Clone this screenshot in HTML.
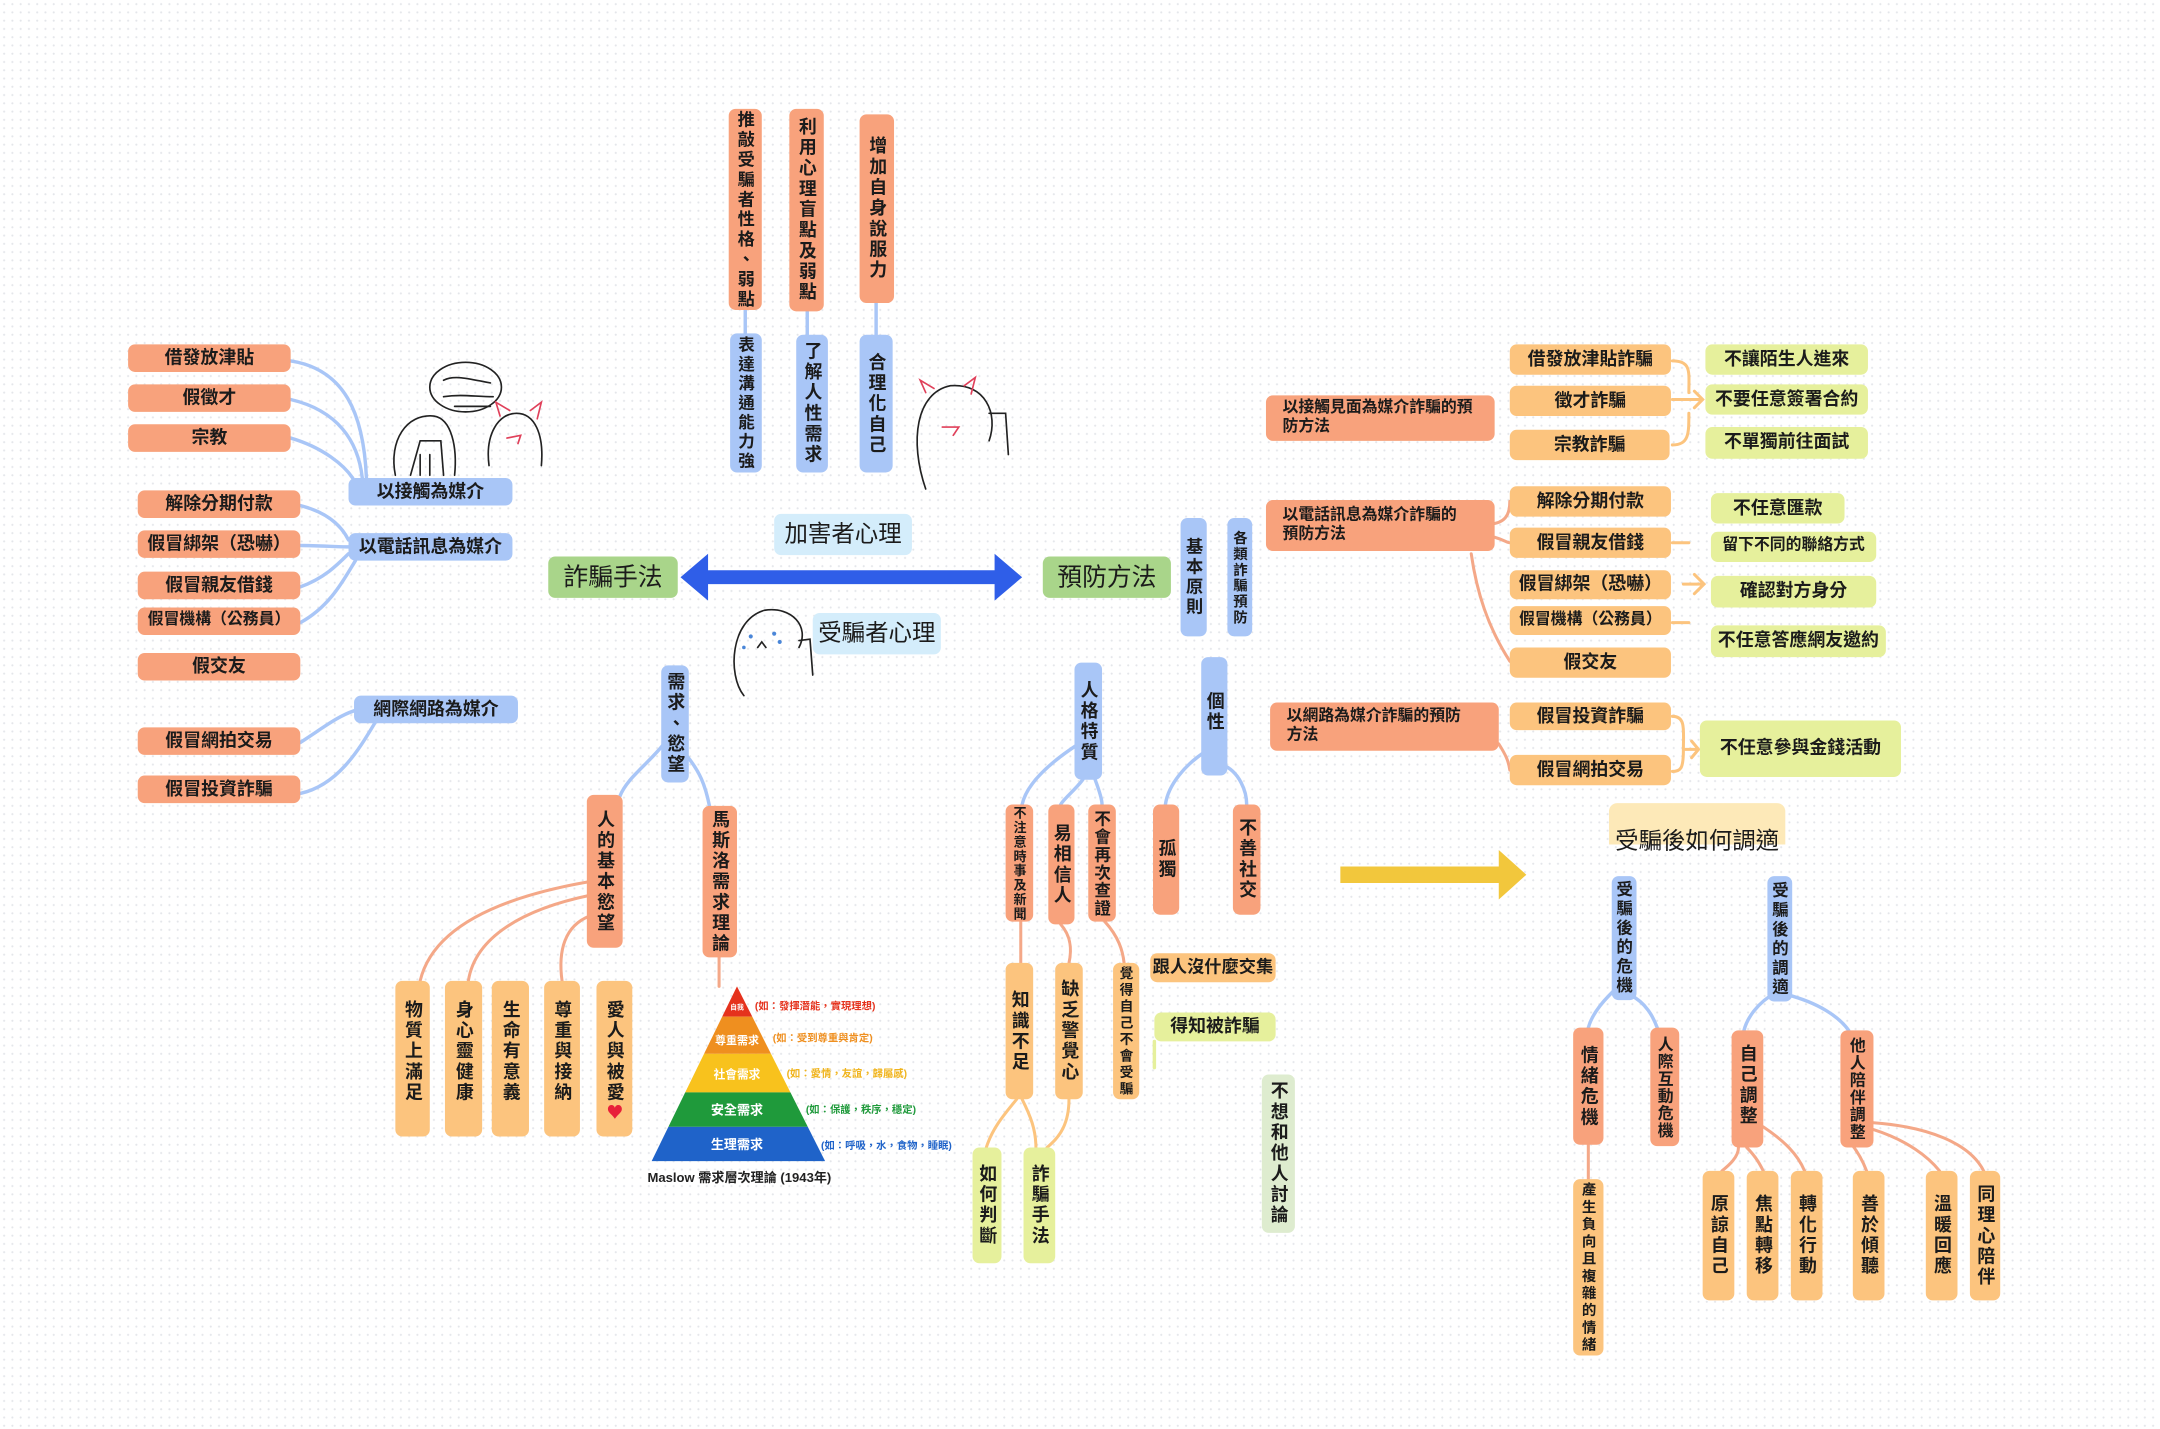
<!DOCTYPE html>
<html><head><meta charset="utf-8">
<style>
html,body{margin:0;padding:0;background:#fff;}
body{width:2160px;height:1428px;overflow:hidden;position:relative;}
#w{position:absolute;left:0;top:0;width:1568px;height:1037px;transform:scale(1.37755);transform-origin:0 0;
 background-color:#fff;background-image:radial-gradient(#e4e6ea 0.6px,transparent 0.9px);background-size:6px 6px;
 font-family:"Liberation Sans","Noto Sans CJK TC","Noto Sans CJK SC",sans-serif;}
.n{position:absolute;border-radius:5px;font-weight:bold;display:flex;align-items:center;justify-content:center;font-size:13px;color:#1b1b1b;box-sizing:border-box;line-height:1.15;}
.v{writing-mode:vertical-rl;text-orientation:upright;letter-spacing:2px;font-family:"Noto Sans CJK TC","Noto Sans CJK SC",sans-serif;}
.o{background:#f8a27c;}
.lo{background:#fcc47e;}
.b{background:#a9c6f7;}
.g{background:#a9d58a;}
.y{background:#e6f09c;}
.pg{background:#deeccf;}
.lb{background:#d4edfb;}
svg{position:absolute;left:0;top:0;}
</style></head><body><div id="w">
<svg width="1568" height="1037" viewBox="0 0 1568 1037" fill="none" stroke-linecap="round">
<g stroke="#a9c6f7" stroke-width="2.5">
<path d="M211,262 C250,268 264,300 266,347"/>
<path d="M211,290 C245,298 260,320 263,347"/>
<path d="M211,318 C235,325 250,338 256,347"/>
<path d="M218,367 C238,372 248,382 253,392"/>
<path d="M218,396 C232,396 244,397 253,397"/>
<path d="M218,426 C235,420 245,410 253,402"/>
<path d="M218,452 C240,440 250,420 258,407"/>
<path d="M218,539 C235,528 245,520 257,516"/>
<path d="M218,576 C245,570 260,545 272,525"/>
<path d="M541,225 V242"/><path d="M586,226 V243"/><path d="M636,220 V243"/>
<path d="M482,540 C470,555 455,565 450,578"/>
<path d="M498,548 C508,560 512,570 515,585"/>
<path d="M783,540 C760,555 745,570 742,584"/>
<path d="M786,566 C780,574 772,580 770,584"/>
<path d="M795,566 C798,574 800,580 800,584"/>
<path d="M876,545 C860,555 848,570 846,584"/>
<path d="M887,555 C900,560 905,575 905,584"/>
<path d="M1176,715 C1165,725 1156,735 1153,746"/>
<path d="M1183,722 C1195,728 1200,738 1203,746"/>
<path d="M1290,720 C1275,728 1268,740 1266,748"/>
<path d="M1297,722 C1320,728 1335,738 1342,748"/>
</g>
<g stroke="#f4a888" stroke-width="2.2">
<path d="M428,640 C370,650 315,670 305,712"/>
<path d="M428,650 C380,660 345,680 340,712"/>
<path d="M428,665 C410,672 405,690 408,712"/>
<path d="M522,695 V716"/>
<path d="M741,669 V699"/>
<path d="M770,671 C778,680 778,690 776,699"/>
<path d="M802,669 C812,680 815,690 816,699"/>
<path d="M1085,380 C1095,378 1096,370 1096,364"/>
<path d="M1085,390 C1092,392 1094,394 1096,394"/>
<path d="M1068,402 C1072,430 1080,455 1096,480"/>
<path d="M1088,540 C1093,548 1095,552 1096,559"/>
<path d="M1153,831 V856"/>
<path d="M1262,833 C1262,840 1255,846 1250,850"/>
<path d="M1268,833 C1275,840 1278,846 1280,850"/>
<path d="M1280,818 C1295,828 1305,838 1310,850"/>
<path d="M1342,828 C1348,835 1352,842 1355,850"/>
<path d="M1360,820 C1385,828 1400,840 1408,850"/>
<path d="M1360,815 C1400,818 1430,830 1440,850"/>
</g>
<g stroke="#fcc47e" stroke-width="2.2">
<path d="M738,798 C728,810 720,820 716,833"/>
<path d="M742,798 C748,810 752,820 752,833"/>
<path d="M776,798 C776,815 770,825 760,833"/>
<path d="M1214,262 C1228,262 1226,270 1226,285 M1214,290 H1226 M1214,323 C1226,323 1226,315 1226,300 M1226,290 L1236,290 M1230,284 L1236,290 L1230,296"/>
<path d="M1214,394 H1226"/>
<path d="M1214,452 H1226"/>
<path d="M1222,424 H1236 M1230,417 L1237,424 L1230,431"/>
<path d="M1214,520 C1224,520 1222,530 1222,545 C1222,558 1220,560 1214,560 M1222,544 H1232 M1228,538 L1233,544 L1228,550"/>
</g>
<g stroke="#e6f09c" stroke-width="2.5"><path d="M838,756 V775"/></g>
<!-- blue double arrow -->
<path d="M494,419 L514,402 L514,414 L722,414 L722,402 L742,419 L722,436 L722,424 L514,424 L514,436 Z" fill="#2f5ee8" stroke="none"/>
<!-- yellow arrow -->
<path d="M973,629 H1088 V617 L1108,635 L1088,653 V641 H973 Z" fill="#f2c73c" stroke="none"/>
<!-- doodles -->
<g stroke="#222" stroke-width="1.2">
<ellipse cx="338" cy="281" rx="26" ry="18"/>
<path d="M322,276 C330,272 340,275 356,278 M322,288 C335,286 345,288 358,288 M330,295 L356,295"/>
<path d="M287,345 C282,320 295,300 315,302 C328,304 332,325 330,345"/>
<path d="M298,345 L305,320 L320,320 L322,345 M305,330 V345 M312,330 V345"/>
<path d="M355,338 C352,315 362,300 375,300 C388,300 395,315 393,338"/>
<path d="M672,355 C660,320 665,285 690,280 C715,278 725,300 718,320 M718,300 L730,300 L732,330"/>
<path d="M540,505 C528,490 530,450 555,443 C575,440 588,455 580,470 M580,465 L588,464 L590,490"/>
<path d="M550,470 L553,466 L556,470"/>
</g>
<g fill="#4a86d8" stroke="none"><circle cx="545" cy="462" r="1.5"/><circle cx="562" cy="460" r="1.5"/><circle cx="566" cy="466" r="1.5"/><circle cx="540" cy="470" r="1.3"/></g>
<g stroke="#e0405a" stroke-width="1.2"><path d="M363,302 L360,292 L370,298 M385,298 L393,292 L390,304 M368,318 L378,316 L376,322"/>
<path d="M672,285 L668,276 L678,282 M700,280 L708,274 L705,286 M684,310 L696,310 L692,316"/></g>
<!-- pyramid -->
<defs><clipPath id="tri"><polygon points="535,716 473,843 599,843"/></clipPath></defs>
<g clip-path="url(#tri)" stroke="none">
<rect x="460" y="712" width="150" height="26" fill="#e5321d"/>
<rect x="460" y="738" width="150" height="27" fill="#ef8f1f"/>
<rect x="460" y="765" width="150" height="28" fill="#f8c21d"/>
<rect x="460" y="793" width="150" height="25" fill="#1f9a3b"/>
<rect x="460" y="818" width="150" height="26" fill="#1f63c9"/>
</g>
<g font-family="Liberation Sans,Noto Sans CJK TC,sans-serif" font-weight="bold" stroke="none">
<text x="535" y="733" font-size="5" fill="#fff" text-anchor="middle">自我</text>
<text x="535" y="758" font-size="8" fill="#fff" text-anchor="middle">尊重需求</text>
<text x="535" y="783" font-size="8.5" fill="#fff" text-anchor="middle">社會需求</text>
<text x="535" y="809" font-size="9.5" fill="#fff" text-anchor="middle">安全需求</text>
<text x="535" y="834" font-size="9.5" fill="#fff" text-anchor="middle">生理需求</text>
<text x="548" y="733" font-size="7.5" fill="#e5321d">(如：發揮潛能，實現理想)</text>
<text x="561" y="756" font-size="7.5" fill="#ef8f1f">(如：受到尊重與肯定)</text>
<text x="571" y="782" font-size="7.5" fill="#f0b41d">(如：愛情，友誼，歸屬感)</text>
<text x="585" y="808" font-size="7.5" fill="#1f9a3b">(如：保護，秩序，穩定)</text>
<text x="596" y="834" font-size="7.5" fill="#1f63c9">(如：呼吸，水，食物，睡眠)</text>
<text x="470" y="858" font-size="9.5" fill="#222">Maslow 需求層次理論 (1943年)</text>
</g>
</svg>

<!-- left -->
<div class="n o" style="left:93px;top:250px;width:118px;height:20px">借發放津貼</div>
<div class="n o" style="left:93px;top:279px;width:118px;height:20px">假徵才</div>
<div class="n o" style="left:93px;top:308px;width:118px;height:20px">宗教</div>
<div class="n o" style="left:100px;top:356px;width:118px;height:20px">解除分期付款</div>
<div class="n o" style="left:100px;top:385px;width:118px;height:20px">假冒綁架（恐嚇）</div>
<div class="n o" style="left:100px;top:415px;width:118px;height:20px">假冒親友借錢</div>
<div class="n o" style="left:100px;top:441px;width:118px;height:20px;font-size:11.5px">假冒機構（公務員）</div>
<div class="n o" style="left:100px;top:474px;width:118px;height:20px">假交友</div>
<div class="n o" style="left:100px;top:528px;width:118px;height:20px">假冒網拍交易</div>
<div class="n o" style="left:100px;top:563px;width:118px;height:20px">假冒投資詐騙</div>
<div class="n b" style="left:253px;top:347px;width:119px;height:20px">以接觸為媒介</div>
<div class="n b" style="left:253px;top:387px;width:119px;height:20px">以電話訊息為媒介</div>
<div class="n b" style="left:257px;top:505px;width:119px;height:20px">網際網路為媒介</div>
<div class="n g" style="left:398px;top:404px;width:94px;height:30px;font-size:18px;font-weight:normal">詐騙手法</div>
<div class="n g" style="left:757px;top:404px;width:93px;height:30px;font-size:18px;font-weight:normal">預防方法</div>
<div class="n lb" style="left:562px;top:373px;width:100px;height:30px;font-size:17px;font-weight:normal">加害者心理</div>
<div class="n lb" style="left:590px;top:445px;width:93px;height:30px;font-size:17px;font-weight:normal">受騙者心理</div>

<!-- top verticals -->
<div class="n o v" style="left:529px;top:79px;width:24px;height:146px;font-size:12.5px">推敲受騙者性格、弱點</div>
<div class="n o v" style="left:573px;top:79px;width:25px;height:147px;font-size:13px">利用心理盲點及弱點</div>
<div class="n o v" style="left:624px;top:83px;width:25px;height:137px;font-size:13px">增加自身說服力</div>
<div class="n b v" style="left:530px;top:242px;width:23px;height:101px;font-size:12px">表達溝通能力強</div>
<div class="n b v" style="left:578px;top:243px;width:23px;height:100px;font-size:13px">了解人性需求</div>
<div class="n b v" style="left:624px;top:243px;width:24px;height:100px;font-size:13px">合理化自己</div>

<!-- mid bottom -->
<div class="n b v" style="left:480px;top:483px;width:20px;height:85px;font-size:13px">需求、慾望</div>
<div class="n o v" style="left:426px;top:577px;width:26px;height:111px;font-size:13px">人的基本慾望</div>
<div class="n o v" style="left:510px;top:585px;width:25px;height:110px;font-size:13px">馬斯洛需求理論</div>
<div class="n lo v" style="left:287px;top:712px;width:25px;height:113px;font-size:13px;justify-content:flex-start;padding-top:14px">物質上滿足</div>
<div class="n lo v" style="left:323px;top:712px;width:27px;height:113px;font-size:13px;justify-content:flex-start;padding-top:14px">身心靈健康</div>
<div class="n lo v" style="left:357px;top:712px;width:27px;height:113px;font-size:13px;justify-content:flex-start;padding-top:14px">生命有意義</div>
<div class="n lo v" style="left:395px;top:712px;width:26px;height:113px;font-size:13px;justify-content:flex-start;padding-top:14px">尊重與接納</div>
<div class="n lo v" style="left:433px;top:712px;width:26px;height:113px;font-size:13px;justify-content:flex-start;padding-top:14px">愛人與被愛<span style="color:#e8203a;font-size:12px">♥</span></div>

<!-- right center -->
<div class="n b v" style="left:857px;top:376px;width:19px;height:86px;font-size:12.5px">基本原則</div>
<div class="n b v" style="left:891px;top:376px;width:18px;height:86px;font-size:10.5px;letter-spacing:1px">各類詐騙預防</div>
<div class="n b v" style="left:780px;top:481px;width:20px;height:85px;font-size:13px">人格特質</div>
<div class="n b v" style="left:872px;top:477px;width:19px;height:86px;font-size:13px;justify-content:flex-start;padding-top:25px">個性</div>
<div class="n o v" style="left:730px;top:584px;width:20px;height:85px;font-size:9.5px;letter-spacing:1px">不注意時事及新聞</div>
<div class="n o v" style="left:761px;top:584px;width:19px;height:87px;font-size:13px">易相信人</div>
<div class="n o v" style="left:790px;top:584px;width:20px;height:85px;font-size:12px;letter-spacing:1px">不會再次查證</div>
<div class="n o v" style="left:837px;top:584px;width:19px;height:80px;font-size:13px">孤獨</div>
<div class="n o v" style="left:895px;top:584px;width:20px;height:80px;font-size:13px">不善社交</div>
<div class="n lo v" style="left:730px;top:699px;width:20px;height:99px;font-size:13px">知識不足</div>
<div class="n lo v" style="left:766px;top:699px;width:20px;height:99px;font-size:13px">缺乏警覺心</div>
<div class="n lo v" style="left:808px;top:699px;width:19px;height:99px;font-size:10px">覺得自己不會受騙</div>
<div class="n lo" style="left:835px;top:692px;width:91px;height:21px;font-size:12.5px">跟人沒什麼交集</div>
<div class="n y" style="left:838px;top:735px;width:88px;height:21px;font-size:13px">得知被詐騙</div>
<div class="n y v" style="left:706px;top:833px;width:21px;height:84px;font-size:13px">如何判斷</div>
<div class="n y v" style="left:743px;top:833px;width:23px;height:84px;font-size:13px">詐騙手法</div>
<div class="n pg v" style="left:916px;top:780px;width:24px;height:115px;font-size:13px">不想和他人討論</div>

<!-- right -->
<div class="n o" style="left:919px;top:287px;width:166px;height:33px;font-size:11.5px;justify-content:flex-start;padding-left:12px">以接觸見面為媒介詐騙的預<br>防方法</div>
<div class="n o" style="left:919px;top:363px;width:166px;height:37px;font-size:11.5px;justify-content:flex-start;padding-left:12px">以電話訊息為媒介詐騙的<br>預防方法</div>
<div class="n o" style="left:922px;top:510px;width:166px;height:35px;font-size:11.5px;justify-content:flex-start;padding-left:12px">以網路為媒介詐騙的預防<br>方法</div>
<div class="n lo" style="left:1096px;top:250px;width:117px;height:22px">借發放津貼詐騙</div>
<div class="n lo" style="left:1096px;top:280px;width:117px;height:22px">徵才詐騙</div>
<div class="n lo" style="left:1096px;top:312px;width:116px;height:22px">宗教詐騙</div>
<div class="n lo" style="left:1096px;top:353px;width:117px;height:22px">解除分期付款</div>
<div class="n lo" style="left:1096px;top:383px;width:117px;height:22px">假冒親友借錢</div>
<div class="n lo" style="left:1096px;top:414px;width:117px;height:21px">假冒綁架（恐嚇）</div>
<div class="n lo" style="left:1096px;top:440px;width:117px;height:21px;font-size:11.5px">假冒機構（公務員）</div>
<div class="n lo" style="left:1096px;top:470px;width:117px;height:22px">假交友</div>
<div class="n lo" style="left:1096px;top:510px;width:117px;height:20px">假冒投資詐騙</div>
<div class="n lo" style="left:1096px;top:548px;width:117px;height:22px">假冒網拍交易</div>
<div class="n y" style="left:1238px;top:250px;width:118px;height:22px">不讓陌生人進來</div>
<div class="n y" style="left:1238px;top:279px;width:118px;height:22px">不要任意簽署合約</div>
<div class="n y" style="left:1238px;top:310px;width:118px;height:23px">不單獨前往面試</div>
<div class="n y" style="left:1242px;top:358px;width:97px;height:22px">不任意匯款</div>
<div class="n y" style="left:1242px;top:386px;width:120px;height:22px;font-size:11.5px">留下不同的聯絡方式</div>
<div class="n y" style="left:1242px;top:418px;width:120px;height:23px">確認對方身分</div>
<div class="n y" style="left:1242px;top:454px;width:127px;height:23px">不任意答應網友邀約</div>
<div class="n y" style="left:1234px;top:523px;width:146px;height:41px">不任意參與金錢活動</div>

<!-- bottom right -->
<div class="n" style="left:1168px;top:583px;width:128px;height:40px;border-radius:6px;font-size:17px;font-weight:normal;align-items:flex-end;padding-bottom:2px;background:linear-gradient(#fde9b8 0,#fde9b8 75%,transparent 75%)">受騙後如何調適</div>
<div class="n b v" style="left:1170px;top:636px;width:18px;height:90px;font-size:12px">受騙後的危機</div>
<div class="n b v" style="left:1283px;top:636px;width:18px;height:91px;font-size:12px">受騙後的調適</div>
<div class="n o v" style="left:1142px;top:746px;width:22px;height:85px;font-size:13px">情緒危機</div>
<div class="n o v" style="left:1198px;top:746px;width:21px;height:86px;font-size:11.5px;letter-spacing:1px">人際互動危機</div>
<div class="n o v" style="left:1257px;top:748px;width:23px;height:85px;font-size:13px;justify-content:flex-start;padding-top:10px">自己調整</div>
<div class="n o v" style="left:1336px;top:748px;width:24px;height:85px;font-size:11.5px;letter-spacing:1px">他人陪伴調整</div>
<div class="n lo v" style="left:1142px;top:856px;width:22px;height:128px;font-size:10.5px">產生負向且複雜的情緒</div>
<div class="n lo v" style="left:1236px;top:850px;width:23px;height:94px;font-size:13px">原諒自己</div>
<div class="n lo v" style="left:1268px;top:850px;width:23px;height:94px;font-size:13px">焦點轉移</div>
<div class="n lo v" style="left:1300px;top:850px;width:23px;height:94px;font-size:13px">轉化行動</div>
<div class="n lo v" style="left:1345px;top:850px;width:23px;height:94px;font-size:13px">善於傾聽</div>
<div class="n lo v" style="left:1398px;top:850px;width:23px;height:94px;font-size:13px">溫暖回應</div>
<div class="n lo v" style="left:1430px;top:850px;width:22px;height:94px;font-size:13px">同理心陪伴</div>
</div></body></html>
